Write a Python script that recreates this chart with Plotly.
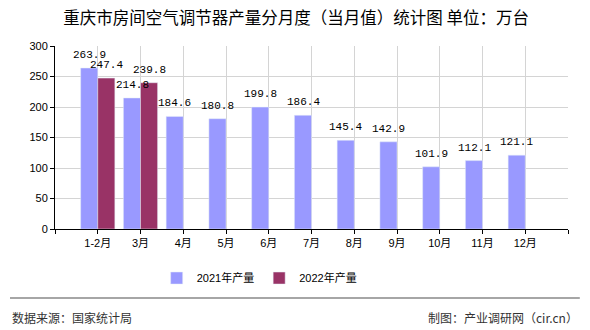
import plotly.graph_objects as go

categories = ["1-2月", "3月", "4月", "5月", "6月", "7月", "8月", "9月", "10月", "11月", "12月"]
values_2021 = [263.9, 214.8, 184.6, 180.8, 199.8, 186.4, 145.4, 142.9, 101.9, 112.1, 121.1]
values_2022 = [247.4, 239.8]
y_ticks = [0, 50, 100, 150, 200, 250, 300]

idx = list(range(len(categories)))
label_font = dict(family="Liberation Mono, DejaVu Sans Mono, monospace", size=11, color="black")

fig = go.Figure()
fig.add_trace(go.Bar(x=idx, y=values_2021, name="2021年产量", marker_color="#9999FF"))
fig.add_trace(go.Bar(x=idx[:len(values_2022)], y=values_2022, name="2022年产量", marker_color="#993366"))

# value labels above the bars
for xi, v in zip(idx, values_2021):
    fig.add_annotation(x=xi, y=v, text=f"{v:.1f}", showarrow=False, xshift=-8.5, yshift=13,
                       xanchor="center", yanchor="middle", font=label_font)
for xi, v in zip(idx, values_2022):
    fig.add_annotation(x=xi, y=v, text=f"{v:.1f}", showarrow=False, xshift=8.5, yshift=13,
                       xanchor="center", yanchor="middle", font=label_font)

tickvals = [-1] + idx + [len(categories)]
ticktext = [""] + categories + [""]

fig.update_layout(
    width=590, height=330,
    margin=dict(l=55, r=22, t=46, b=101),
    paper_bgcolor="white", plot_bgcolor="white",
    barmode="group", bargap=0.2, bargroupgap=0,
    font=dict(family="Liberation Sans, Noto Sans CJK SC, sans-serif", size=11, color="black"),
    title=dict(text="重庆市房间空气调节器产量分月度（当月值）统计图 单位：万台",
               x=0.502, xanchor="center", y=0.945, yanchor="middle", yref="container",
               font=dict(family="Noto Sans CJK SC, sans-serif", size=16.5, color="black")),
    legend=dict(orientation="h", x=0.398, xanchor="center", y=-0.268, yanchor="middle",
                font=dict(family="Liberation Sans, Noto Sans CJK SC, sans-serif", size=11, color="black"),
                itemwidth=30, traceorder="normal"),
)
fig.update_xaxes(
    range=[-1, len(categories)], tickmode="array", tickvals=tickvals, ticktext=ticktext,
    showgrid=True, gridcolor="#d4d4d4", gridwidth=1,
    showline=True, linecolor="black", linewidth=1,
    ticks="outside", ticklen=4, tickcolor="black",
    tickfont=dict(family="Liberation Sans, Noto Sans CJK SC, sans-serif", size=11, color="black"),
    zeroline=False, fixedrange=True,
)
fig.update_yaxes(
    range=[0, 300], tickmode="array", tickvals=y_ticks,
    showgrid=True, gridcolor="#d4d4d4", gridwidth=1,
    showline=True, linecolor="black", linewidth=1,
    ticks="outside", ticklen=4, tickcolor="black",
    tickfont=dict(family="Liberation Sans, sans-serif", size=11, color="black"),
    zeroline=False, fixedrange=True,
)

fig.add_shape(type="line", xref="paper", yref="paper", x0=-0.0877, x1=1.023, y0=-0.377, y1=-0.377,
              line=dict(color="#888888", width=1.5))
fig.add_annotation(text="数据来源：国家统计局", xref="paper", yref="paper", x=-0.0877, y=-0.481,
                   xanchor="left", yanchor="middle", showarrow=False,
                   font=dict(family="Noto Sans CJK SC, sans-serif", size=12, color="#333333"))
fig.add_annotation(text="制图：产业调研网（cir.cn）", xref="paper", yref="paper", x=1.023, y=-0.481,
                   xanchor="right", yanchor="middle", showarrow=False,
                   font=dict(family="Noto Sans CJK SC, sans-serif", size=12, color="#333333"))

fig.write_html("out.html", config={"displayModeBar": False})
